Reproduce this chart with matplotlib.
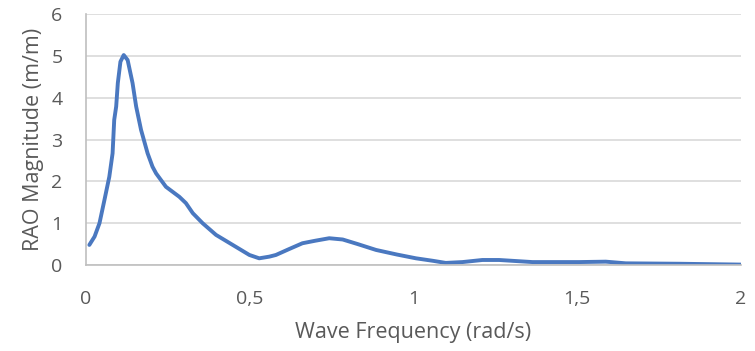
import matplotlib
matplotlib.use("Agg")
import matplotlib.pyplot as plt
from matplotlib.ticker import FuncFormatter

# RAO curve
freq = [0.010, 0.026, 0.041, 0.056, 0.071, 0.081, 0.086, 0.092, 0.097, 0.105,
        0.115, 0.127, 0.142, 0.153, 0.168, 0.188, 0.203, 0.214, 0.244, 0.285,
        0.305, 0.326, 0.356, 0.397, 0.448, 0.499, 0.529, 0.560, 0.580, 0.620,
        0.661, 0.700, 0.743, 0.784, 0.830, 0.886, 0.950, 1.008, 1.060, 1.099,
        1.150, 1.211, 1.262, 1.364, 1.506, 1.588, 1.649, 1.812, 2.000]
rao = [0.48, 0.68, 1.00, 1.55, 2.11, 2.67, 3.47, 3.79, 4.35, 4.86,
       5.02, 4.90, 4.35, 3.79, 3.23, 2.67, 2.35, 2.19, 1.87, 1.63,
       1.48, 1.24, 1.00, 0.72, 0.48, 0.24, 0.16, 0.20, 0.24, 0.38,
       0.52, 0.58, 0.64, 0.61, 0.50, 0.36, 0.25, 0.16, 0.10, 0.05,
       0.07, 0.12, 0.12, 0.07, 0.07, 0.08, 0.04, 0.03, 0.01]

x_ticks = [0, 0.5, 1, 1.5, 2]
y_ticks = [0, 1, 2, 3, 4, 5, 6]

plt.rcParams['font.family'] = ['Open Sans', 'DejaVu Sans']
text_color = '#595959'

fig = plt.figure(figsize=(7.55, 3.51), dpi=100)
ax = fig.add_axes([0.114, 0.245, 0.867, 0.715])

ax.plot(freq, rao, color='#4a78c0', linewidth=2.8, solid_capstyle='round',
        solid_joinstyle='round')

ax.set_xlim(0, 2)
ax.set_ylim(0, 6)
ax.set_xticks(x_ticks)
ax.set_yticks(y_ticks)
comma = FuncFormatter(lambda v, p: ('%g' % v).replace('.', ','))
ax.xaxis.set_major_formatter(comma)
ax.yaxis.set_major_formatter(comma)

ax.grid(axis='y', color='#d9d9d9', linewidth=1.2)
ax.set_axisbelow(True)
for side in ['top', 'right']:
    ax.spines[side].set_visible(False)
for side in ['left', 'bottom']:
    ax.spines[side].set_color('#bfbfbf')
    ax.spines[side].set_linewidth(1.2)

ax.tick_params(length=0, labelsize=14, colors=text_color)
ax.tick_params(axis='x', pad=18)
ax.tick_params(axis='y', pad=17)

ax.set_xlabel('Wave Frequency (rad/s)', fontsize=15.5, color=text_color, labelpad=10)
ax.set_ylabel('RAO Magnitude (m/m)', fontsize=15.5, color=text_color, labelpad=5)

fig.savefig('out.png', dpi=100)
